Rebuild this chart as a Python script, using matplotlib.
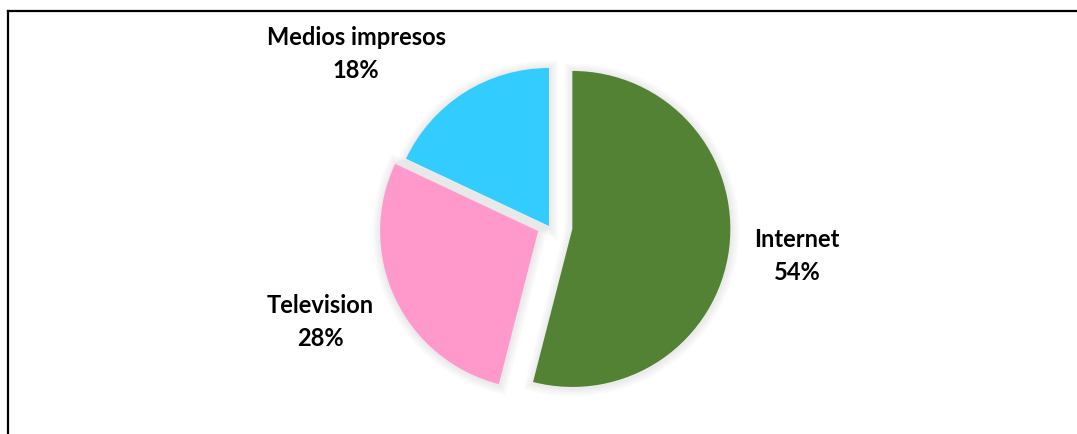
import matplotlib.pyplot as plt
from matplotlib.patches import Wedge

categorias = ["Internet", "Television", "Medios impresos"]
porcentajes = [54, 28, 18]
colores = ["#548235", "#FF99CC", "#33CCFF"]
separacion = [0.149, 0.076, 0.0]

# posicion de cada etiqueta (pixeles, y hacia arriba)
pos_etiquetas = [(797, 179), (320, 113), (356, 381)]

fig = plt.figure(figsize=(10.77, 4.35), dpi=100)
ax = fig.add_axes([0, 0, 1, 1])

centro = (549, 208)
radio = 158

# explode de pie va en unidades de datos, se escala con el radio
wedges, _ = ax.pie(porcentajes, colors=colores,
                   explode=[s * radio for s in separacion],
                   startangle=90, counterclock=False, center=centro,
                   radius=radio, frame=True, wedgeprops=dict(linewidth=0))
ax.set_xlim(0, 1077)
ax.set_ylim(0, 435)
ax.set_aspect("equal")
ax.axis("off")

# sombra difusa alrededor de cada porcion
for w in wedges:
    cx, cy = w.center
    for lw in [12, 9, 6, 3]:
        s = Wedge((cx + 0.5, cy - 1), w.r, w.theta1, w.theta2,
                  facecolor="none", edgecolor="black", linewidth=lw,
                  alpha=0.02, zorder=0)
        ax.add_patch(s)
    w.set_zorder(2)

for nombre, valor, (x, y) in zip(categorias, porcentajes, pos_etiquetas):
    ax.text(x, y, f"{nombre}\n{valor}%", ha="center", va="center",
            fontsize=17, fontweight="bold", family="Lato",
            linespacing=1.5, zorder=3)

# marco del grafico
ax.plot([8, 8], [0, 423], color="black", lw=1.6, clip_on=False)
ax.plot([8, 1077], [423, 423], color="black", lw=1.6, clip_on=False)

fig.savefig("out.png", dpi=100)
